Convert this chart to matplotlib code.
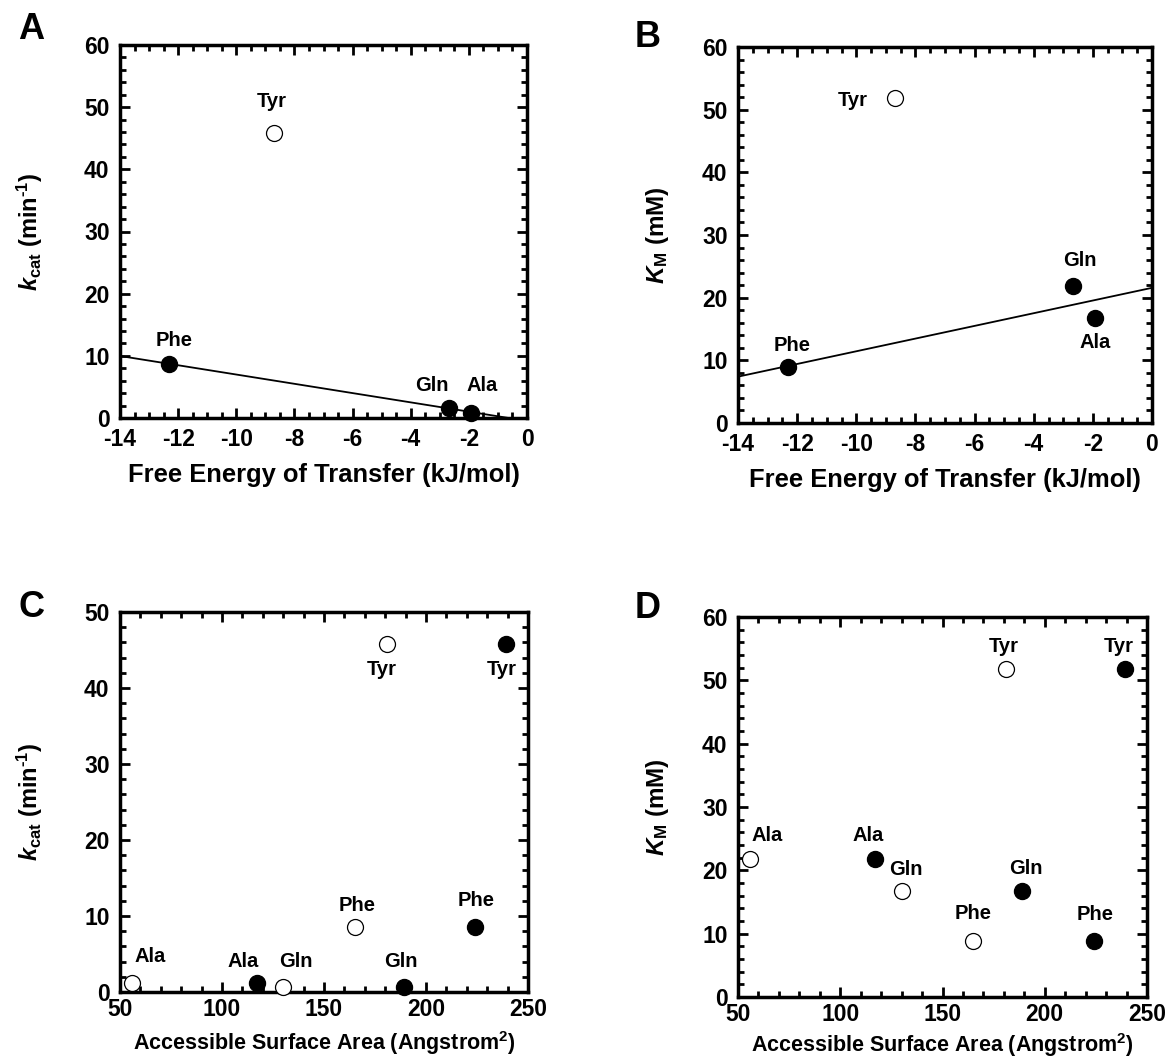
import numpy as np
import matplotlib
matplotlib.use("Agg")
import matplotlib.pyplot as plt
from matplotlib.ticker import MultipleLocator

plt.rcParams['font.family'] = ['Liberation Sans', 'DejaVu Sans']
plt.rcParams['font.weight'] = 'bold'
plt.rcParams['axes.unicode_minus'] = False
plt.rcParams['mathtext.fontset'] = 'custom'
plt.rcParams['mathtext.rm'] = 'Liberation Sans:bold'
plt.rcParams['mathtext.it'] = 'Liberation Sans:italic:bold'
plt.rcParams['mathtext.bf'] = 'Liberation Sans:bold'

# free energy of transfer (kJ/mol)
fe_names = ["Phe", "Tyr", "Gln", "Ala"]
fe_x = [-12.3, -8.7, -2.67, -1.93]
fe_open = [False, True, False, False]
kcat_a = [8.7, 45.9, 1.65, 0.85]
km_b = [8.9, 51.8, 21.9, 16.8]

# accessible surface area, open and filled symbols
asa_names = ["Ala", "Gln", "Phe", "Tyr"]
asa_open = [56, 130, 165, 181]
asa_fill = [117, 189, 224, 239]
kcat_c = [1.2, 0.7, 8.5, 45.8]
km_d = [21.8, 16.7, 8.8, 51.8]

W, H = 1169, 1063
fig = plt.figure(figsize=(W / 100, H / 100), dpi=100)


def make_ax(x0, y0, x1, y1):
    return fig.add_axes([x0 / W, 1 - y1 / H, (x1 - x0) / W, (y1 - y0) / H])


def style(ax, xlim, ylim, xmaj, xmin, ymaj, ymin, xpad=7.5):
    ax.set_xlim(*xlim)
    ax.set_ylim(*ylim)
    ax.xaxis.set_major_locator(MultipleLocator(xmaj))
    ax.xaxis.set_minor_locator(MultipleLocator(xmin))
    ax.yaxis.set_major_locator(MultipleLocator(ymaj))
    ax.yaxis.set_minor_locator(MultipleLocator(ymin))
    ax.tick_params(which='both', direction='in', top=True, right=True, width=2.0)
    ax.tick_params(which='major', length=7, labelsize=16.5)
    ax.tick_params(which='minor', length=4)
    ax.tick_params(axis='x', which='major', pad=xpad)
    ax.tick_params(axis='y', which='major', pad=7.5)
    for s in ax.spines.values():
        s.set_linewidth(2.5)
    for lab in ax.get_xticklabels() + ax.get_yticklabels():
        lab.set_fontweight('bold')


def dot(ax, x, y, hollow):
    ax.plot(x, y, 'o', ms=11.5, mfc='white' if hollow else 'black',
            mec='black', mew=0.9 if hollow else 1.0, clip_on=False, zorder=3)


def tag(ax, text, x, y, dx, dy):
    ax.annotate(text, (x, y), xytext=(dx * 0.72, dy * 0.72), textcoords='offset points',
                ha='center', va='center', fontsize=14.5, fontweight='bold')


ylab_k = '$k_{\\rm cat}$ (min$^{\\rm \u20101}$)'
ylab_m = r'$K_{\rm M}$ (mM)'
xlab_fe = 'Free Energy of Transfer (kJ/mol)'
xlab_asa = r'Accessible Surface Area (Angstrom$^{\rm 2}$)'

# ---- A
axA = make_ax(120, 45, 527, 418)
style(axA, (-14, 0), (0, 60), 2, 0.5, 10, 2)
sel = [i for i in range(4) if not fe_open[i]]
fit = np.polyfit([fe_x[i] for i in sel], [kcat_a[i] for i in sel], 1)
xx = np.array([-14, 0])
axA.plot(xx, np.polyval(fit, xx), color='black', lw=1.3)
for i in range(4):
    dot(axA, fe_x[i], kcat_a[i], fe_open[i])
offA = [(5, 23), (-2, 31), (-18, 22), (11, 27)]
for i in range(4):
    tag(axA, fe_names[i], fe_x[i], kcat_a[i], *offA[i])
axA.set_xlabel(xlab_fe, fontsize=18.4, fontweight='bold', labelpad=8)
axA.set_ylabel(ylab_k, fontsize=17, fontweight='bold')
axA.yaxis.set_label_coords(-0.185, 0.5)

# ---- B
axB = make_ax(738, 47, 1152, 423)
style(axB, (-14, 0), (0, 60), 2, 0.5, 10, 2)
fit = np.polyfit([fe_x[i] for i in sel], [km_b[i] for i in sel], 1)
axB.plot(xx, np.polyval(fit, xx), color='black', lw=1.3)
for i in range(4):
    dot(axB, fe_x[i], km_b[i], fe_open[i])
offB = [(4, 22), (-42, -2), (7, 25), (0, -25)]
for i in range(4):
    tag(axB, fe_names[i], fe_x[i], km_b[i], *offB[i])
axB.set_xlabel(xlab_fe, fontsize=18.4, fontweight='bold', labelpad=8)
axB.set_ylabel(ylab_m, fontsize=17.5, fontweight='bold')
axB.yaxis.set_label_coords(-0.162, 0.5)

# ---- C
axC = make_ax(120, 612, 528, 992)
style(axC, (50, 250), (0, 50), 50, 10, 10, 2, xpad=4)
for i in range(4):
    dot(axC, asa_open[i], kcat_c[i], True)
    dot(axC, asa_fill[i], kcat_c[i], False)
offC_open = [(18, 26), (13, 25), (3, 22), (-5, -26)]
offC_fill = [(-14, 21), (-3, 25), (1, 27), (-4, -26)]
for i in range(4):
    tag(axC, asa_names[i], asa_open[i], kcat_c[i], *offC_open[i])
    tag(axC, asa_names[i], asa_fill[i], kcat_c[i], *offC_fill[i])
axC.set_xlabel(xlab_asa, fontsize=15.5, fontweight='bold', labelpad=6)
axC.set_ylabel(ylab_k, fontsize=17, fontweight='bold')
axC.yaxis.set_label_coords(-0.184, 0.5)

# ---- D
axD = make_ax(738, 617, 1147, 997)
style(axD, (50, 250), (0, 60), 50, 10, 10, 2, xpad=4)
for i in range(4):
    dot(axD, asa_open[i], km_d[i], True)
    dot(axD, asa_fill[i], km_d[i], False)
offD_open = [(17, 23), (4, 22), (0, 28), (-2, 22)]
offD_fill = [(-7, 23), (4, 23), (1, 27), (-6, 22)]
for i in range(4):
    tag(axD, asa_names[i], asa_open[i], km_d[i], *offD_open[i])
    tag(axD, asa_names[i], asa_fill[i], km_d[i], *offD_fill[i])
axD.set_xlabel(xlab_asa, fontsize=15.5, fontweight='bold', labelpad=4)
axD.set_ylabel(ylab_m, fontsize=17.5, fontweight='bold')
axD.yaxis.set_label_coords(-0.164, 0.5)

# panel letters
for letter, px, py in [("A", 18, 12), ("B", 635, 20), ("C", 18, 590), ("D", 635, 591)]:
    fig.text(px / W, 1 - py / H, letter, fontsize=26, fontweight='bold', ha='left', va='top')

fig.savefig('out.png', dpi=100)
